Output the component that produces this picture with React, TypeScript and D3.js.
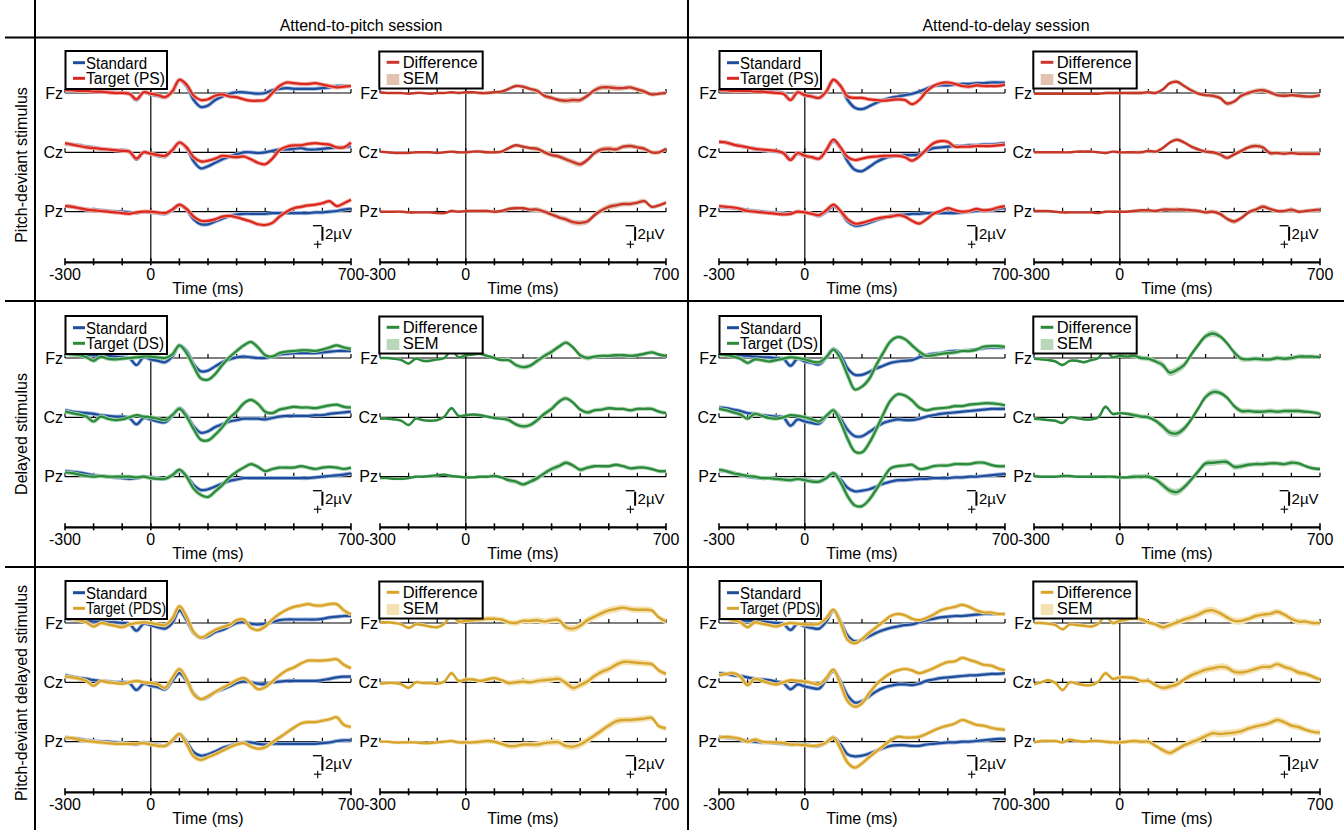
import React from 'react';
import * as d3 from 'd3';

// ---------- categories / labels ----------
const TIMES = [-300,-275,-250,-225,-200,-175,-150,-125,-100,-75,-50,-25,0,25,50,75,100,125,150,175,200,225,250,275,300,325,350,375,400,425,450,475,500,525,550,575,600,625,650,675,700];
const TICK_TIMES = [-300,-200,-100,0,100,200,300,400,500,600,700];
const TICK_LABELS = [{ t: -300, label: '-300' }, { t: 0, label: '0' }, { t: 700, label: '700' }];
const ELECTRODES = ['Fz', 'Cz', 'Pz'];
const SESSIONS = ['Attend-to-pitch session', 'Attend-to-delay session'];
const STIMULI = ['Pitch-deviant stimulus', 'Delayed stimulus', 'Pitch-deviant delayed stimulus'];
const TARGET_NAMES = ['Target (PS)', 'Target (DS)', 'Target (PDS)'];
const SEM_BIN_TIMES = [-300,-200,-100,0,100,200,300,400,500,600,700];

// ---------- series values (µV, positive drawn downward) ----------
// Row 1: pitch-deviant stimulus, attend-to-pitch session
const P1_STD_FZ = [-0.3,-0.4,-0.3,-0.3,-0.3,-0.2,-0.1,-0.1,0,0.1,1.0,-0.1,0.2,0.4,0.6,-0.2,-1.8,-1.0,1.0,2.0,1.8,1.0,0.5,0.1,-0.1,-0.1,0.0,0.1,0,-0.4,-0.6,-0.7,-0.6,-0.6,-0.6,-0.6,-0.7,-0.8,-1.0,-1.0,-1.0];
const P1_TGT_FZ = [-0.4,-0.4,-0.3,-0.3,-0.2,-0.2,-0.1,0,0,0.1,0.9,-0.1,0.1,0.3,0.6,-0.2,-1.9,-1.2,0.4,1.0,0.9,0.4,0.2,0.5,0.6,0.9,1.1,1.1,1.0,0,-1.0,-1.5,-1.4,-1.3,-1.3,-1.4,-1.2,-1.0,-0.8,-0.9,-1.0];
const P1_STD_CZ = [-1.2,-1.1,-1.0,-0.8,-0.7,-0.5,-0.4,-0.3,-0.3,-0.1,1.0,0,0.2,0.5,0.6,-0.3,-1.4,-0.6,1.3,2.3,2.0,1.5,1.0,0.6,0.3,0,0,0.1,0,-0.2,-0.4,-0.4,-0.5,-0.6,-0.4,-0.4,-0.5,-0.6,-0.7,-0.7,-0.9];
const P1_TGT_CZ = [-1.3,-1.1,-0.9,-0.7,-0.6,-0.5,-0.4,-0.3,-0.2,-0.1,0.9,0,0.2,0.4,0.5,-0.3,-1.4,-0.7,0.7,1.3,1.2,0.9,0.5,0.6,0.7,0.6,1.0,1.5,1.7,0.9,-0.3,-0.8,-1.0,-1.0,-1.2,-1.3,-1.2,-1.1,-0.7,-0.7,-1.4];
const P1_STD_PZ = [-0.8,-0.7,-0.5,-0.3,-0.3,-0.2,-0.1,0,0,0.1,0.2,0,0.1,0.2,0.3,-0.2,-1.0,-0.3,1.1,1.8,1.8,1.4,1.0,0.6,0.4,0.3,0.3,0.3,0.3,0.2,0.2,0.2,0.2,0.2,0.2,0.1,0.1,0,-0.1,-0.3,-0.4];
const P1_TGT_PZ = [-0.8,-0.7,-0.5,-0.3,-0.2,-0.1,0,0.1,0.2,0.3,0.1,0,0,0.1,0.2,-0.3,-1.0,-0.4,0.7,1.3,1.3,1.1,0.7,0.6,0.8,1.1,1.4,1.8,1.9,1.6,0.7,0,-0.5,-0.7,-0.9,-1.0,-1.2,-1.5,-0.8,-1.2,-1.7];
// Row 1: pitch-deviant stimulus, attend-to-delay session
const D1_STD_FZ = [-0.5,-0.5,-0.4,-0.4,-0.4,-0.3,-0.3,-0.2,-0.1,0,1.0,-0.1,0.3,0.5,0.7,-0.2,-1.8,-1.0,1.0,2.1,2.3,1.9,1.4,1.0,0.7,0.5,0.3,0.1,-0.2,-0.6,-1.0,-1.1,-1.1,-1.2,-1.3,-1.3,-1.4,-1.4,-1.5,-1.5,-1.5];
const D1_TGT_FZ = [-0.4,-0.4,-0.3,-0.3,-0.3,-0.2,-0.2,-0.1,0,0.1,1.0,-0.1,0.3,0.5,0.7,-0.2,-1.9,-1.0,0.5,0.7,0.7,0.9,1.0,1.1,1.0,0.9,1.0,1.6,1.0,-0.2,-1.0,-1.4,-1.5,-1.3,-1.0,-0.9,-1.1,-1.0,-1.0,-1.0,-1.2];
const D1_STD_CZ = [-1.5,-1.4,-1.1,-0.9,-0.7,-0.5,-0.3,-0.2,-0.1,0.1,1.0,0.2,0.5,0.7,0.9,-0.3,-1.6,-0.6,1.3,2.5,2.7,2.1,1.4,0.9,0.6,0.5,0.4,0.4,0.3,-0.2,-0.6,-0.7,-0.8,-0.9,-0.9,-1.0,-1.0,-1.1,-1.1,-1.2,-1.3];
const D1_TGT_CZ = [-1.5,-1.4,-1.1,-0.9,-0.7,-0.5,-0.4,-0.3,-0.2,0.1,1.1,0.1,0.5,0.7,0.9,-0.3,-1.8,-0.7,0.7,1.1,0.9,0.7,0.6,0.5,0.5,0.5,0.7,1.2,0.6,-0.4,-1.3,-1.6,-1.5,-0.8,-0.8,-0.8,-0.9,-0.9,-0.9,-1.0,-1.1];
const D1_STD_PZ = [-0.7,-0.6,-0.5,-0.4,-0.2,-0.1,0,0.1,0.2,0.2,0.3,0,0.1,0.3,0.6,0,-0.8,0,1.4,2.0,1.9,1.6,1.2,0.9,0.6,0.5,0.4,0.3,0.3,0.2,0.2,0.2,0.2,0.2,0.1,0,-0.1,-0.2,-0.2,-0.4,-0.5];
const D1_TGT_PZ = [-0.8,-0.7,-0.6,-0.4,-0.1,0,0.1,0.2,0.3,0.4,0.3,0,0.1,0.3,0.5,-0.2,-1.0,-0.1,1.1,1.7,1.6,1.3,1.0,0.8,0.7,0.5,0.7,1.3,1.7,1.1,0.3,-0.1,-0.5,-0.2,0,-0.1,-0.4,-0.2,-0.3,-0.6,-0.8];
// Row 2: delayed stimulus, attend-to-pitch session
const P2_STD_FZ = [-0.6,-0.5,-0.5,-0.4,-0.4,-0.3,-0.3,-0.2,-0.1,0,1.0,-0.1,0.2,0.4,0.6,-0.2,-1.8,-1.0,0.9,1.9,1.8,1.2,0.6,0.2,-0.1,-0.2,-0.1,0,0,-0.2,-0.5,-0.6,-0.7,-0.7,-0.7,-0.7,-0.8,-0.9,-1.0,-1.0,-1.0];
const P2_TGT_FZ = [-0.6,-0.5,-0.4,-0.1,0.4,-0.2,0.1,0.2,0.1,0,-0.1,-0.2,-0.2,-0.1,0,-0.5,-1.8,-0.7,1.2,2.9,3.1,2.3,1.0,-0.1,-1.0,-1.8,-2.3,-1.5,-0.4,-0.2,-0.7,-0.9,-1.0,-1.1,-1.1,-1.0,-1.2,-1.5,-1.8,-1.5,-1.3];
const P2_STD_CZ = [-1.0,-0.8,-0.7,-0.6,-0.5,-0.3,-0.2,-0.1,-0.1,0.1,1.0,0.1,0.3,0.6,0.7,-0.2,-1.3,-0.3,1.3,2.2,2.0,1.4,1.0,0.6,0.4,0.2,0.2,0.2,0.3,0.1,-0.1,-0.2,-0.2,-0.2,-0.2,-0.3,-0.3,-0.5,-0.6,-0.7,-0.8];
const P2_TGT_CZ = [-0.8,-0.6,-0.4,-0.1,0.6,-0.1,0.2,0.4,0.3,0,-0.3,-0.1,0,0.2,0.4,-0.3,-1.2,-0.1,1.7,3.2,3.3,2.5,1.4,0.1,-0.8,-2.0,-2.5,-1.9,-0.8,-0.6,-1.1,-1.3,-1.5,-1.4,-1.4,-1.3,-1.5,-1.7,-1.8,-1.5,-1.4];
const P2_STD_PZ = [-0.8,-0.7,-0.6,-0.4,-0.2,-0.1,0,0.1,0.2,0.3,0.2,0,0.1,0.2,0.3,-0.2,-0.9,-0.1,1.2,1.9,1.8,1.4,1.0,0.6,0.4,0.2,0.2,0.2,0.2,0.2,0.2,0.2,0.2,0.2,0.2,0.1,0,-0.1,-0.2,-0.3,-0.5];
const P2_TGT_PZ = [-0.6,-0.5,-0.3,-0.1,0,-0.1,0,0,0,0,0.1,0,0.2,0.3,0.3,-0.2,-1.0,0,1.7,2.6,2.9,2.1,1.2,0.1,-0.7,-1.3,-1.8,-1.4,-0.8,-1.1,-1.3,-1.3,-1.3,-1.5,-1.3,-1.1,-1.3,-1.4,-1.3,-1.1,-1.3];
// Row 2: delayed stimulus, attend-to-delay session
const D2_STD_FZ = [-0.6,-0.6,-0.5,-0.4,-0.3,-0.2,-0.1,-0.1,0,0.1,1.1,0.1,0.5,0.7,0.9,-0.1,-1.3,-0.4,1.5,2.4,2.4,2.0,1.5,1.1,0.7,0.5,0.4,0.3,-0.1,-0.4,-0.6,-0.7,-0.9,-1.0,-1.0,-1.1,-1.2,-1.4,-1.5,-1.5,-1.5];
const D2_TGT_FZ = [-0.5,-0.4,-0.2,0.1,0.7,0.2,0.3,0.5,0.3,0.1,-0.1,0,0.2,0.5,0.6,-0.1,-1.2,0.1,2.5,4.5,4.1,3.0,1.0,-0.8,-2.4,-3.0,-2.7,-1.8,-0.9,-0.3,-0.4,-0.6,-0.7,-0.8,-1.0,-1.0,-1.2,-1.6,-1.7,-1.7,-1.6];
const D2_STD_CZ = [-1.4,-1.3,-1.1,-0.9,-0.6,-0.5,-0.3,-0.2,-0.1,0,1.2,0.3,0.6,0.8,0.9,-0.1,-1.0,0.2,1.8,2.7,2.7,2.1,1.4,0.8,0.5,0.3,0.4,0.4,0.2,-0.1,-0.3,-0.5,-0.6,-0.7,-0.8,-0.9,-1.0,-1.1,-1.2,-1.2,-1.2];
const D2_TGT_CZ = [-1.2,-1.0,-0.7,-0.4,0.2,-0.5,-0.2,0.1,0.2,0,-0.3,-0.2,0,0.3,0.6,-0.2,-1.0,0.7,3.1,4.9,5.0,3.7,1.7,-0.5,-2.4,-3.3,-3.1,-2.4,-1.4,-1.0,-1.2,-1.3,-1.4,-1.6,-1.6,-1.8,-1.9,-2.0,-2.0,-1.9,-1.7];
const D2_STD_PZ = [-0.9,-0.8,-0.5,-0.3,0,0.1,0.2,0.2,0.3,0.4,0.5,0.3,0.4,0.6,0.7,0.2,-0.5,0.4,1.6,2.1,2.0,1.8,1.4,1.0,0.7,0.5,0.5,0.4,0.3,0.3,0.2,0.2,0.2,0.1,0.1,0,0,-0.1,-0.2,-0.3,-0.4];
const D2_TGT_PZ = [-1.0,-0.8,-0.5,-0.3,-0.1,0,0.2,0.2,0.3,0.4,0.5,0.3,0.5,0.7,0.7,0.2,-0.5,0.8,2.8,4.1,4.2,3.3,1.8,0.2,-1.2,-1.5,-1.6,-1.7,-1.1,-1.2,-1.5,-1.6,-1.6,-1.8,-1.8,-1.8,-2.0,-2.0,-1.7,-1.5,-1.5];
// Row 3: pitch-deviant delayed stimulus, attend-to-pitch session
const P3_STD_FZ = [-0.6,-0.5,-0.4,-0.3,-0.2,-0.2,-0.1,-0.1,0,0.1,1.1,0.1,0.3,0.6,0.8,0,-1.8,-0.4,1.4,2.1,1.9,1.3,1.0,0.5,0,-0.1,0.1,0.2,0.1,-0.1,-0.4,-0.5,-0.5,-0.5,-0.5,-0.5,-0.6,-0.8,-0.9,-1.0,-1.0];
const P3_TGT_FZ = [-0.7,-0.6,-0.4,-0.1,0.5,0,0.2,0.4,0.6,0.2,0,-0.1,0,0.2,0.3,-0.6,-2.4,-0.9,1.3,2.1,1.6,1.0,0.6,0.3,-0.4,-0.5,0.7,1.0,0.5,-0.5,-1.3,-1.9,-2.3,-2.5,-2.7,-2.5,-2.5,-2.7,-2.7,-1.8,-1.2];
const P3_STD_CZ = [-1.0,-0.8,-0.6,-0.5,-0.3,-0.2,-0.1,0,0,0.1,1.1,0.2,0.5,0.7,1.0,-0.2,-1.3,-0.2,1.6,2.4,2.1,1.4,1.0,0.6,0.1,-0.1,0,0.2,0.3,0,-0.1,-0.2,-0.2,-0.2,-0.2,-0.2,-0.3,-0.5,-0.7,-0.8,-0.8];
const P3_TGT_CZ = [-0.8,-0.7,-0.5,-0.2,0.5,-0.2,0,0.1,0.2,0,-0.2,0,0.1,0.3,0.8,-0.6,-1.9,-0.5,1.7,2.4,2.0,1.4,0.8,0.3,-0.3,-0.6,0.1,1.0,0.7,-0.1,-1.0,-1.7,-2.1,-2.7,-3.1,-3.1,-3.1,-3.2,-3.3,-2.5,-2.0];
const P3_STD_PZ = [-0.6,-0.5,-0.4,-0.2,-0.1,0,0,0.1,0.2,0.3,0.4,0.1,0.3,0.5,0.6,-0.1,-1.1,0,1.5,2.0,1.8,1.4,0.9,0.6,0.3,0.1,0.1,0.3,0.4,0.3,0.3,0.3,0.3,0.3,0.3,0.3,0.2,0.1,-0.1,-0.2,-0.2];
const P3_TGT_PZ = [-0.6,-0.5,-0.3,-0.1,0,0.1,0.2,0.3,0.3,0.3,0.3,0.2,0.4,0.6,0.6,-0.2,-1.1,0.3,2.1,2.6,2.2,1.8,1.3,0.8,0.4,0.2,0.7,1.0,0.8,0.1,-0.6,-1.3,-2.0,-2.6,-2.8,-2.8,-3.0,-3.2,-3.5,-2.4,-2.1];
// Row 3: pitch-deviant delayed stimulus, attend-to-delay session
const D3_STD_FZ = [-0.7,-0.6,-0.5,-0.4,-0.3,-0.3,-0.2,-0.1,0,0.1,1.0,0.1,0.5,0.7,0.8,-0.2,-1.8,-0.2,1.8,2.6,2.4,1.9,1.4,1.0,0.7,0.5,0.3,0.2,-0.1,-0.4,-0.6,-0.8,-0.9,-1.0,-1.0,-1.1,-1.2,-1.3,-1.3,-1.3,-1.3];
const D3_TGT_FZ = [-0.7,-0.6,-0.4,-0.1,0.6,-0.1,0.1,0.3,0.5,0.2,0,0.1,0.2,0.2,0.1,-0.7,-1.9,0,2.4,2.9,2.3,1.4,0.6,-0.2,-1.0,-1.3,-1.1,-0.6,-0.4,-0.7,-1.2,-1.8,-2.1,-2.3,-2.6,-2.3,-1.8,-1.5,-1.5,-1.3,-1.3];
const D3_STD_CZ = [-1.3,-1.2,-1.0,-0.9,-0.7,-0.5,-0.4,-0.3,-0.1,0.1,1.0,0.3,0.6,0.8,0.9,-0.4,-1.6,-0.1,1.9,2.9,2.7,2.0,1.3,0.8,0.5,0.3,0.3,0.4,0.2,-0.2,-0.4,-0.6,-0.7,-0.8,-0.9,-1.0,-1.0,-1.1,-1.2,-1.2,-1.3];
const D3_TGT_CZ = [-1.0,-1.2,-1.3,-0.8,0.4,-0.5,-0.2,0.1,0.3,0,-0.3,-0.2,-0.1,0.1,0.3,-0.6,-1.8,0.3,2.7,3.5,3.0,1.6,0.3,-0.6,-1.3,-1.7,-1.9,-1.7,-1.3,-1.6,-2.0,-2.5,-2.9,-3.0,-3.5,-3.2,-2.9,-2.5,-2.4,-2.0,-1.7];
const D3_STD_PZ = [-0.7,-0.6,-0.5,-0.3,-0.1,0,0.1,0.1,0.2,0.3,0.4,0.3,0.4,0.6,0.6,0.1,-0.6,0.4,1.8,2.1,2.0,1.7,1.3,0.9,0.6,0.5,0.5,0.6,0.6,0.4,0.3,0.2,0.1,0.1,0,0,-0.1,-0.2,-0.3,-0.4,-0.4];
const D3_TGT_PZ = [-0.6,-0.7,-0.6,-0.4,0,-0.3,0,0.1,0.1,0.2,0.4,0.4,0.5,0.6,0.5,0.1,-0.6,1.0,3.0,3.7,3.1,2.2,1.4,0.6,-0.2,-0.7,-0.6,-0.6,-0.7,-1.1,-1.6,-2.0,-2.3,-2.6,-3.1,-2.8,-2.4,-2.3,-2.0,-1.8,-1.7];

// SEM of the difference wave (µV), one value per 100 ms bin
const P1_SEM = [0.15,0.15,0.15,0.2,0.25,0.3,0.35,0.4,0.4,0.35,0.3];
const D1_SEM = [0.15,0.15,0.15,0.2,0.25,0.3,0.3,0.35,0.35,0.3,0.3];
const P2_SEM = [0.15,0.2,0.2,0.2,0.25,0.35,0.4,0.35,0.3,0.3,0.3];
const D2_SEM = [0.2,0.2,0.2,0.25,0.35,0.5,0.45,0.4,0.35,0.35,0.3];
const P3_SEM = [0.2,0.25,0.25,0.3,0.35,0.4,0.45,0.5,0.5,0.45,0.4];
const D3_SEM = [0.2,0.25,0.25,0.3,0.35,0.45,0.5,0.5,0.45,0.45,0.4];

// ---------- styling ----------
const W = 1344;
const H = 830;
const FONT = "'Liberation Sans', Arial, Helvetica, sans-serif";
const STD_COLOR = '#1d4d9b';
const STD_HALO = '#a3b8dd';
const TGT_COLORS = ['#d9281e', '#2b8a3c', '#d7a42d'];
const TGT_HALOS = ['#f3a79e', '#a3d2a8', '#f0d696'];
const DIFF_COLORS = ['#c8362a', '#2b8a3c', '#d7a42d'];
const SEM_COLORS = ['#e3c3b0', '#b9d8b9', '#f4e2b2'];

const COL_X0 = [65, 719];
const DIFF_DX = 315;
const PANEL_W = 286;
const ROW_Y0 = [0, 265, 530];
const BASE_Y = [93, 152.3, 211.7];
const AXIS_Y = 262.3;
const PX_PER_UV = 7;
const LEGEND_TEXT_LEN: Record<string, number> = {
  'Standard': 61, 'Target (PS)': 79, 'Target (DS)': 78, 'Target (PDS)': 80, 'Difference': 75, 'SEM': 36,
};

type Cell = { std: number[][]; tgt: number[][]; sem: number[] };
const CELLS: Cell[][] = [
  [
    { std: [P1_STD_FZ, P1_STD_CZ, P1_STD_PZ], tgt: [P1_TGT_FZ, P1_TGT_CZ, P1_TGT_PZ], sem: P1_SEM },
    { std: [D1_STD_FZ, D1_STD_CZ, D1_STD_PZ], tgt: [D1_TGT_FZ, D1_TGT_CZ, D1_TGT_PZ], sem: D1_SEM },
  ],
  [
    { std: [P2_STD_FZ, P2_STD_CZ, P2_STD_PZ], tgt: [P2_TGT_FZ, P2_TGT_CZ, P2_TGT_PZ], sem: P2_SEM },
    { std: [D2_STD_FZ, D2_STD_CZ, D2_STD_PZ], tgt: [D2_TGT_FZ, D2_TGT_CZ, D2_TGT_PZ], sem: D2_SEM },
  ],
  [
    { std: [P3_STD_FZ, P3_STD_CZ, P3_STD_PZ], tgt: [P3_TGT_FZ, P3_TGT_CZ, P3_TGT_PZ], sem: P3_SEM },
    { std: [D3_STD_FZ, D3_STD_CZ, D3_STD_PZ], tgt: [D3_TGT_FZ, D3_TGT_CZ, D3_TGT_PZ], sem: D3_SEM },
  ],
];

function semAt(sem: number[], t: number) {
  const i = d3.bisectCenter(SEM_BIN_TIMES, t);
  return sem[i];
}

function Frame({ x0, rowY, children }: { x0: number; rowY: number; children?: React.ReactNode }) {
  const x = d3.scaleLinear().domain([-300, 700]).range([x0, x0 + PANEL_W]);
  const ay = rowY + AXIS_Y;
  return (
    <g>
      {ELECTRODES.map((e, i) => {
        const by = rowY + BASE_Y[i];
        return (
          <g key={e}>
            <line x1={x(-300)} x2={x(700)} y1={by} y2={by} stroke="#000" strokeWidth={1.2} />
            {TICK_TIMES.map((t) => (
              <line key={t} x1={x(t)} x2={x(t)} y1={by - 4} y2={by} stroke="#000" strokeWidth={1.2} />
            ))}
            <text x={x0 - 2} y={by} textAnchor="end" dominantBaseline="central" fontSize={16}>{e}</text>
          </g>
        );
      })}
      <line x1={x(0)} x2={x(0)} y1={rowY + 52} y2={ay} stroke="#000" strokeWidth={1.2} />
      <line x1={x(-300)} x2={x(700)} y1={ay} y2={ay} stroke="#000" strokeWidth={2.2} />
      {TICK_TIMES.map((t) => (
        <line key={t} x1={x(t)} x2={x(t)} y1={ay - 4} y2={ay + 3} stroke="#000" strokeWidth={1.6} />
      ))}
      {TICK_LABELS.map((d) => (
        <text key={d.t} x={x(d.t)} y={rowY + 280} textAnchor="middle" fontSize={16}>{d.label}</text>
      ))}
      <text x={(x(-300) + x(700)) / 2} y={rowY + 293.5} textAnchor="middle" fontSize={16}>Time (ms)</text>
      {children}
    </g>
  );
}

function ScaleBar({ bx, top }: { bx: number; top: number }) {
  const bottom = top + 2 * PX_PER_UV;
  return (
    <g>
      <line x1={bx} x2={bx} y1={top} y2={bottom} stroke="#000" strokeWidth={2} />
      <line x1={bx - 9.5} x2={bx - 0.5} y1={top - 1} y2={top - 1} stroke="#000" strokeWidth={1.3} />
      <line x1={bx - 8.5} x2={bx - 1} y1={bottom + 3.5} y2={bottom + 3.5} stroke="#000" strokeWidth={1.1} />
      <line x1={bx - 4.7} x2={bx - 4.7} y1={bottom} y2={bottom + 7.5} stroke="#000" strokeWidth={1.1} />
      <text x={bx + 2.5} y={bottom - 1.5} fontSize={15}>2µV</text>
    </g>
  );
}

function LegendText({ x, y, label }: { x: number; y: number; label: string }) {
  return (
    <text x={x} y={y} fontSize={16} textLength={LEGEND_TEXT_LEN[label]} lengthAdjust="spacingAndGlyphs">{label}</text>
  );
}

function ErpPanel({ x0, rowY, cell, r }: { x0: number; rowY: number; cell: Cell; r: number }) {
  const x = d3.scaleLinear().domain([-300, 700]).range([x0, x0 + PANEL_W]);
  return (
    <Frame x0={x0} rowY={rowY}>
      {ELECTRODES.map((e, i) => {
        const by = rowY + BASE_Y[i];
        const y = d3.scaleLinear().domain([0, 1]).range([by, by + PX_PER_UV]);
        const line = d3.line<number>().x((_, k) => x(TIMES[k])).y((v) => y(v)).curve(d3.curveCatmullRom.alpha(0.5));
        return (
          <g key={e}>
            <path d={line(cell.std[i]) || ''} fill="none" stroke={STD_HALO} strokeWidth={4} strokeLinejoin="round" />
            <path d={line(cell.std[i]) || ''} fill="none" stroke={STD_COLOR} strokeWidth={2.2} strokeLinejoin="round" />
            <path d={line(cell.tgt[i]) || ''} fill="none" stroke={TGT_HALOS[r]} strokeWidth={4} strokeLinejoin="round" />
            <path d={line(cell.tgt[i]) || ''} fill="none" stroke={TGT_COLORS[r]} strokeWidth={2.2} strokeLinejoin="round" />
          </g>
        );
      })}
      <rect x={x0 + 0.5} y={rowY + 51} width={101.5} height={38} fill="#fff" stroke="#000" strokeWidth={2} />
      <line x1={x0 + 8} x2={x0 + 20} y1={rowY + 62.7} y2={rowY + 62.7} stroke={STD_COLOR} strokeWidth={3} />
      <LegendText x={x0 + 21} y={rowY + 68.5} label="Standard" />
      <line x1={x0 + 8} x2={x0 + 20} y1={rowY + 78.3} y2={rowY + 78.3} stroke={TGT_COLORS[r]} strokeWidth={3} />
      <LegendText x={x0 + 21} y={rowY + 84} label={TARGET_NAMES[r]} />
      <ScaleBar bx={x(600)} top={rowY + BASE_Y[2] + 15} />
    </Frame>
  );
}

function DiffPanel({ x0, rowY, cell, r }: { x0: number; rowY: number; cell: Cell; r: number }) {
  const x = d3.scaleLinear().domain([-300, 700]).range([x0, x0 + PANEL_W]);
  return (
    <Frame x0={x0} rowY={rowY}>
      {ELECTRODES.map((e, i) => {
        const by = rowY + BASE_Y[i];
        const y = d3.scaleLinear().domain([0, 1]).range([by, by + PX_PER_UV]);
        const diff = cell.tgt[i].map((v, k) => v - cell.std[i][k]);
        const area = d3.area<number>()
          .x((_, k) => x(TIMES[k]))
          .y0((v, k) => y(v - semAt(cell.sem, TIMES[k])))
          .y1((v, k) => y(v + semAt(cell.sem, TIMES[k])))
          .curve(d3.curveCatmullRom.alpha(0.5));
        const line = d3.line<number>().x((_, k) => x(TIMES[k])).y((v) => y(v)).curve(d3.curveCatmullRom.alpha(0.5));
        return (
          <g key={e}>
            <path d={area(diff) || ''} fill={SEM_COLORS[r]} stroke="none" />
            <path d={line(diff) || ''} fill="none" stroke={DIFF_COLORS[r]} strokeWidth={2.4} strokeLinejoin="round" />
          </g>
        );
      })}
      <rect x={x0 - 0.7} y={rowY + 51.5} width={103.4} height={37} fill="#fff" stroke="#000" strokeWidth={2} />
      <line x1={x0 + 6.7} x2={x0 + 19.3} y1={rowY + 62.3} y2={rowY + 62.3} stroke={DIFF_COLORS[r]} strokeWidth={3} />
      <LegendText x={x0 + 22.7} y={rowY + 68} label="Difference" />
      <rect x={x0 + 6.7} y={rowY + 74} width={12.6} height={11} fill={SEM_COLORS[r]} />
      <LegendText x={x0 + 22.7} y={rowY + 84} label="SEM" />
      <ScaleBar bx={x(592)} top={rowY + BASE_Y[2] + 15} />
    </Frame>
  );
}

export default function App() {
  const headerX = [361, 1006];
  const rowLabelY = [165, 434, 693];
  return (
    <svg width={W} height={H} viewBox={`0 0 ${W} ${H}`} fontFamily={FONT}
      style={{ position: 'absolute', left: 0, top: 0, display: 'block', background: '#fff' }}>
      <rect x={0} y={0} width={W} height={H} fill="#fff" />
      {/* grid lines */}
      <line x1={35} x2={35} y1={0} y2={H} stroke="#000" strokeWidth={2} />
      <line x1={688} x2={688} y1={0} y2={H} stroke="#000" strokeWidth={2} />
      <line x1={5} x2={W} y1={37.5} y2={37.5} stroke="#000" strokeWidth={2} />
      <line x1={5} x2={W} y1={301} y2={301} stroke="#000" strokeWidth={2} />
      <line x1={5} x2={W} y1={567} y2={567} stroke="#000" strokeWidth={2} />
      {SESSIONS.map((s, c) => (
        <text key={s} x={headerX[c]} y={30.5} textAnchor="middle" fontSize={16}>{s}</text>
      ))}
      {STIMULI.map((s, r) => (
        <text key={s} transform={`translate(26.5,${rowLabelY[r]}) rotate(-90)`} textAnchor="middle" fontSize={16}>{s}</text>
      ))}
      {CELLS.map((row, r) =>
        row.map((cell, c) => (
          <g key={`${r}-${c}`}>
            <ErpPanel x0={COL_X0[c]} rowY={ROW_Y0[r]} cell={cell} r={r} />
            <DiffPanel x0={COL_X0[c] + DIFF_DX} rowY={ROW_Y0[r]} cell={cell} r={r} />
          </g>
        ))
      )}
    </svg>
  );
}
